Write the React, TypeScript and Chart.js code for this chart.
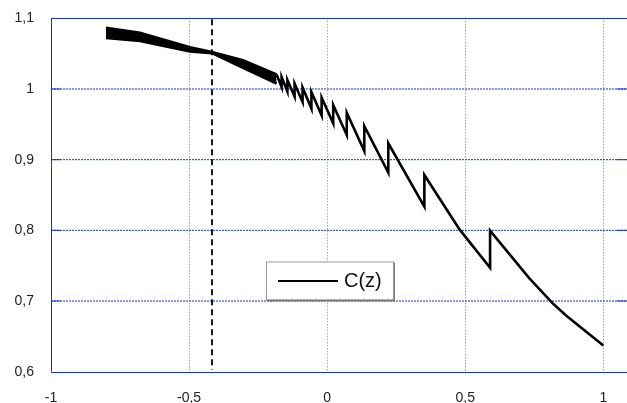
import React, { useEffect, useRef } from "react";
import { Chart, registerables } from "chart.js";

Chart.register(...registerables);

// ---- data ----
const xTicks = [-1, -0.5, 0, 0.5, 1];
const yTicks = [0.6, 0.7, 0.8, 0.9, 1, 1.1];
const markerZ = -0.417;
const legendLabel = "C(z)";

// dense oscillating part (drawn as a filled band between envelopes)
const bandZ = [-0.801, -0.678, -0.497, -0.417, -0.305, -0.183];
const bandUpper = [1.0866, 1.0796, 1.0592, 1.0525, 1.0408, 1.0205];
const bandLower = [1.0722, 1.0678, 1.0530, 1.0507, 1.0298, 1.0075];

// resolved saw-tooth part (repeated z = jump)
const curveZ = [
  -0.183, -0.165, -0.165, -0.144, -0.144, -0.118, -0.118, -0.089, -0.089,
  -0.057, -0.057, -0.02, -0.02, 0.022, 0.022, 0.071, 0.071, 0.1345, 0.1345,
  0.2214, 0.2214, 0.352, 0.352, 0.48, 0.59, 0.59, 0.7316, 0.816, 0.864, 1.0,
];
const curveC = [
  1.0205, 1.0028, 1.0169, 0.9964, 1.0127, 0.9894, 1.0078, 0.9816, 1.0021,
  0.9724, 0.9957, 0.9625, 0.9879, 0.9514, 0.9773, 0.935, 0.9664, 0.9122, 0.9476,
  0.8816, 0.9232, 0.8335, 0.8783, 0.801, 0.7471, 0.7995, 0.7323, 0.697, 0.68, 0.637,
];

const FONT = '"Liberation Sans", Arial, Helvetica, sans-serif';
const fmt = (v: number) => String(Math.round(v * 10) / 10).replace(".", ",");

const framePlugin = {
  id: "frame",
  beforeDatasetsDraw(chart: any) {
    const { ctx, chartArea } = chart;
    const xs = chart.scales.x;
    const ys = chart.scales.y;
    const L = chartArea.left;
    const R = chartArea.right;
    const T = ys.getPixelForValue(1.1);
    const B = ys.getPixelForValue(0.6);
    ctx.save();
    // vertical grid
    ctx.strokeStyle = "rgba(80,100,235,0.9)";
    ctx.lineWidth = 1;
    ctx.setLineDash([1, 2]);
    xTicks.forEach((v) => {
      if (v === -1) return;
      const px = Math.round(xs.getPixelForValue(v)) + 0.5;
      ctx.beginPath();
      ctx.moveTo(px, T);
      ctx.lineTo(px, B);
      ctx.stroke();
    });
    // horizontal grid
    ctx.strokeStyle = "#1030e0";
    ctx.setLineDash([2, 1]);
    yTicks.forEach((v) => {
      if (v === 0.6 || v === 1.1) return;
      const py = ys.getPixelForValue(v);
      ctx.beginPath();
      ctx.moveTo(L, py);
      ctx.lineTo(R, py);
      ctx.stroke();
    });
    ctx.setLineDash([]);
    ctx.strokeStyle = "#1533d6";
    yTicks.forEach((v) => {
      if (v === 0.6 || v === 1.1) return;
      const py = ys.getPixelForValue(v);
      ctx.beginPath();
      ctx.moveTo(L, py);
      ctx.lineTo(L + 10, py);
      ctx.moveTo(R - 10, py);
      ctx.lineTo(R, py);
      ctx.stroke();
    });
    // frame lines
    ctx.beginPath();
    ctx.moveTo(L, Math.round(T) + 0.5);
    ctx.lineTo(R, Math.round(T) + 0.5);
    ctx.moveTo(L, Math.round(B) + 0.5);
    ctx.lineTo(R, Math.round(B) + 0.5);
    ctx.moveTo(Math.round(L) + 0.5, T);
    ctx.lineTo(Math.round(L) + 0.5, B);
    ctx.stroke();
    // marker dashed line
    const mx = xs.getPixelForValue(markerZ);
    ctx.strokeStyle = "#000";
    ctx.lineWidth = 1.8;
    ctx.setLineDash([6, 4]);
    ctx.beginPath();
    ctx.moveTo(mx, T + 1);
    ctx.lineTo(mx, B - 2);
    ctx.stroke();
    ctx.restore();
  },
  afterDraw(chart: any) {
    const { ctx } = chart;
    const bx = 266;
    const by = 261.5;
    const bw = 128;
    const bh = 39;
    ctx.save();
    ctx.fillStyle = "#fff";
    ctx.fillRect(bx, by, bw, bh);
    ctx.strokeStyle = "#555";
    ctx.lineWidth = 1.5;
    ctx.beginPath();
    ctx.moveTo(bx + bw, by + 1);
    ctx.lineTo(bx + bw, by + bh);
    ctx.lineTo(bx + 1, by + bh);
    ctx.stroke();
    ctx.strokeStyle = "#999";
    ctx.lineWidth = 1;
    ctx.strokeRect(bx + 0.5, by + 0.5, bw - 1, bh - 1);
    ctx.strokeStyle = "#000";
    ctx.lineWidth = 1.8;
    ctx.beginPath();
    ctx.moveTo(278, 281);
    ctx.lineTo(338, 281);
    ctx.stroke();
    ctx.fillStyle = "#111";
    ctx.font = `20px ${FONT}`;
    ctx.textBaseline = "middle";
    ctx.textAlign = "left";
    ctx.fillText(legendLabel, 344, 281);
    ctx.restore();
  },
};

export default function App() {
  const ref = useRef<HTMLCanvasElement | null>(null);
  useEffect(() => {
    if (!ref.current) return;
    const chart = new Chart(ref.current, {
      type: "line",
      data: {
        datasets: [
          {
            data: bandZ.map((z, i) => ({ x: z, y: bandUpper[i] })),
            borderColor: "#000",
            borderWidth: 2.5,
            pointRadius: 0,
            fill: false,
            tension: 0,
          },
          {
            data: bandZ.map((z, i) => ({ x: z, y: bandLower[i] })),
            borderColor: "#000",
            backgroundColor: "#000",
            borderWidth: 2.5,
            pointRadius: 0,
            fill: "-1",
            tension: 0,
          },
          {
            data: curveZ.map((z, i) => ({ x: z, y: curveC[i] })),
            borderColor: "#000",
            borderWidth: 2.6,
            pointRadius: 0,
            fill: false,
            tension: 0,
          },
        ],
      },
      options: {
        responsive: false,
        animation: false,
        events: [],
        layout: { padding: { top: 18.3, left: 0, right: 0, bottom: 0 } },
        plugins: { legend: { display: false }, tooltip: { enabled: false } },
        scales: {
          x: {
            type: "linear",
            min: -1,
            max: 1.0858,
            grid: { display: false },
            border: { display: false },
            afterBuildTicks: (s: any) => {
              s.ticks = xTicks.map((v) => ({ value: v }));
            },
            afterFit: (s: any) => {
              s.height = 31.3;
              s.paddingLeft = 0;
              s.paddingRight = 0;
            },
            ticks: {
              autoSkip: false,
              maxRotation: 0,
              padding: 10,
              color: "#222",
              font: { family: FONT, size: 14 },
              callback: (v: any) => fmt(Number(v)),
            },
          },
          y: {
            type: "linear",
            min: 0.6,
            max: 1.1,
            grid: { display: false },
            border: { display: false },
            afterBuildTicks: (s: any) => {
              s.ticks = yTicks.map((v) => ({ value: v }));
            },
            afterFit: (s: any) => {
              s.width = 51;
              s.paddingTop = 0;
              s.paddingBottom = 0;
            },
            ticks: {
              autoSkip: false,
              padding: 9,
              color: "#222",
              font: { family: FONT, size: 14 },
              callback: (v: any) => fmt(Number(v)),
            },
          },
        },
      },
      plugins: [framePlugin],
    });
    return () => chart.destroy();
  }, []);
  return (
    <div style={{ position: "fixed", left: 0, top: 0, width: 627, height: 403, background: "#fff" }}>
      <canvas ref={ref} width={627} height={403} style={{ display: "block" }} />
    </div>
  );
}
